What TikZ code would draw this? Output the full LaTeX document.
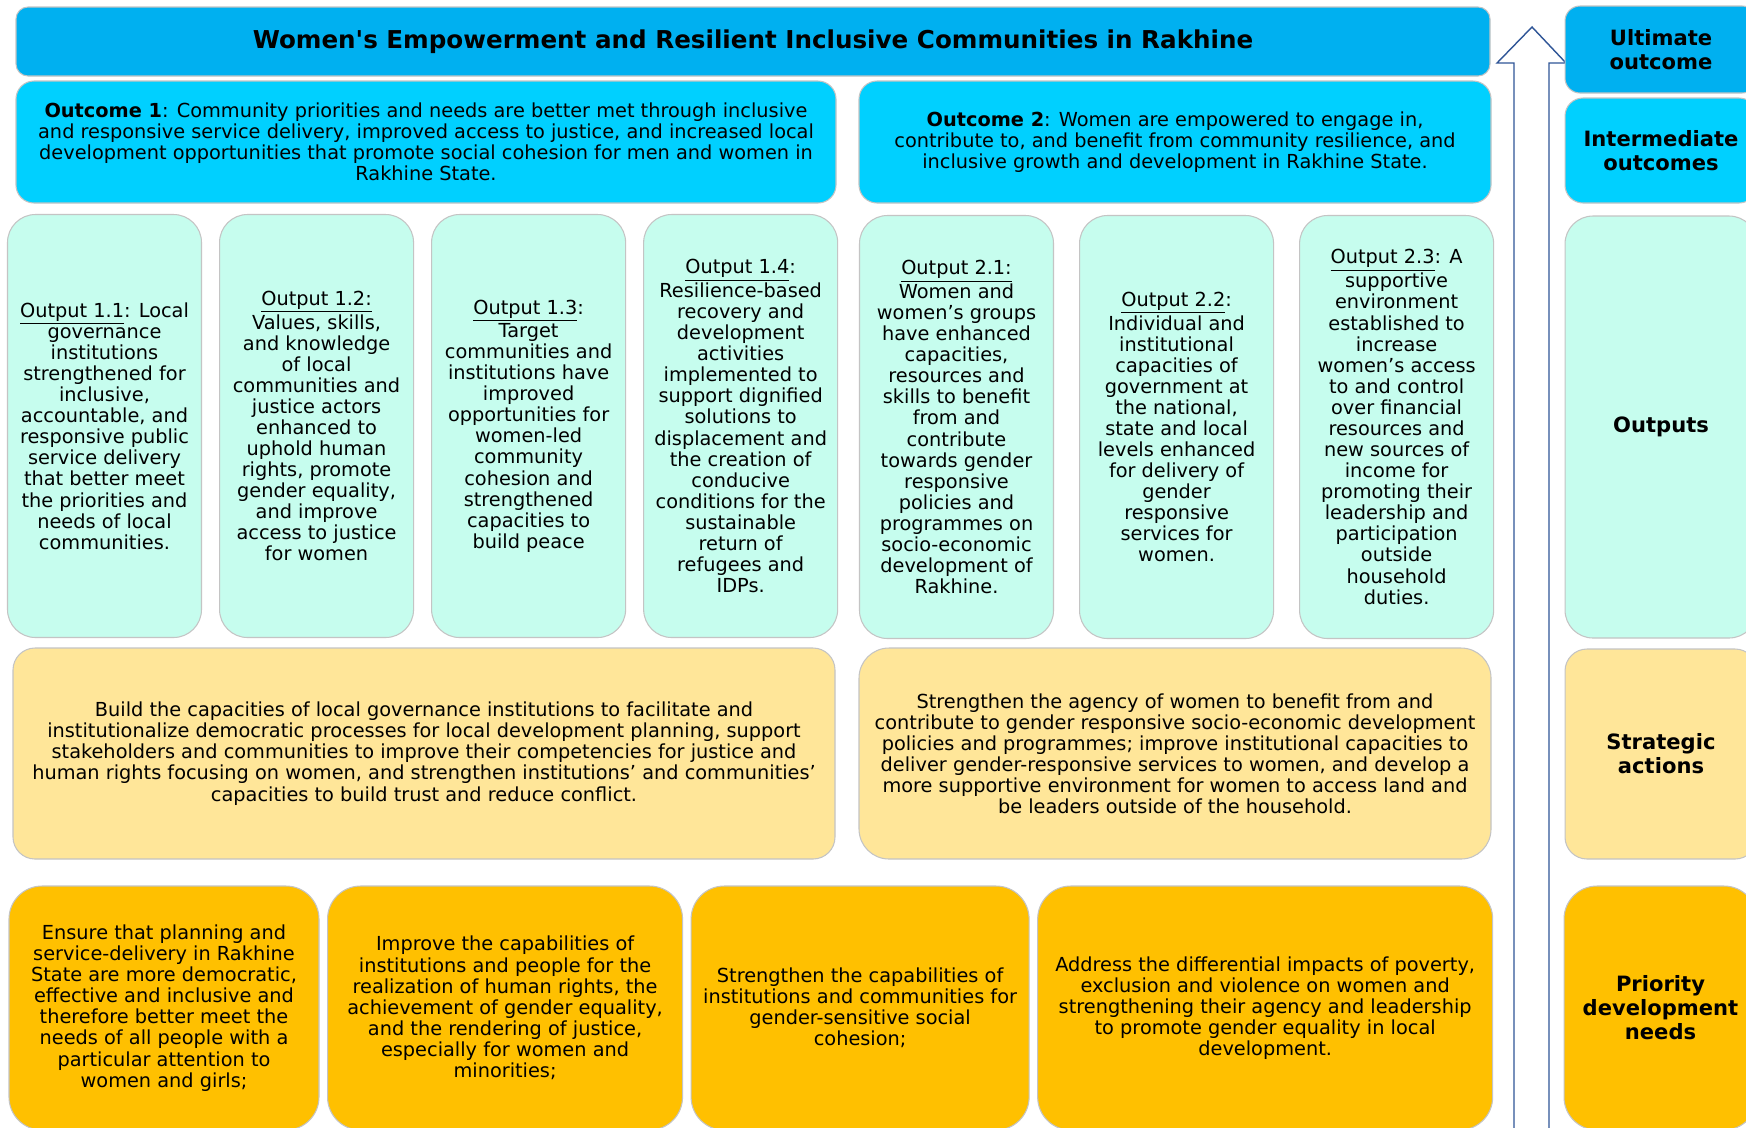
\documentclass[tikz,border=0pt]{standalone}
\usepackage{fontspec}
\setmainfont{DejaVu Sans}
\usetikzlibrary{positioning,chains}

\definecolor{goalblue}{HTML}{00B0F0}
\definecolor{outcomecyan}{HTML}{00D0FF}
\definecolor{outmint}{HTML}{C6FDEE}
\definecolor{actionyellow}{HTML}{FFE699}
\definecolor{needorange}{HTML}{FFC000}
\definecolor{edgegray}{HTML}{C4C4C4}
\definecolor{flowblue}{HTML}{2F5597}

\tikzset{
  wh/.style 2 args={minimum width=#1*0.02cm, minimum height=#2*0.02cm},
  basebox/.style={draw=edgegray, line width=0.6pt, align=center, inner sep=0pt,
    font=\fontsize{11}{12}\selectfont},
  goalbox/.style={basebox, fill=goalblue, rounded corners=0.24cm,
    font=\fontsize{14}{16}\selectfont\bfseries},
  outcomebox/.style={basebox, fill=outcomecyan, rounded corners=0.36cm},
  outbox/.style={basebox, fill=outmint, rounded corners=0.56cm, wh={194}{423}},
  actionbox/.style={basebox, fill=actionyellow, rounded corners=0.44cm},
  needbox/.style={basebox, fill=needorange, rounded corners=0.66cm},
  levelbox/.style={basebox, font=\fontsize{12}{13.7}\selectfont\bfseries},
  upflow/.style={draw=flowblue, line width=0.8pt, fill=white}
}

\begin{document}
\begin{tikzpicture}[x=0.02cm, y=-0.02cm]
\clip (0,0) rectangle (1746,1127);
\fill[white] (0,0) rectangle (1746,1127);

% goal and outcomes
\node[goalbox, wh={1474}{69}] (goal) at (753,41.5)
  {Women\textquotesingle s Empowerment and Resilient Inclusive Communities in Rakhine};
\node[outcomebox, wh={820}{122}] (oc1) at (426,142)
  {\textbf{Outcome 1}: Community priorities and needs are better met through inclusive\\
   and responsive service delivery, improved access to justice, and increased local\\
   development opportunities that promote social cohesion for men and women in\\
   Rakhine State.};
\node[outcomebox, wh={632}{122}] (oc2) at (1175,142)
  {\textbf{Outcome 2}: Women are empowered to engage in,\\
   contribute to, and benefit from community resilience, and\\
   inclusive growth and development in Rakhine State.};

% outputs
\begin{scope}[start chain=going right, node distance=0.34cm]
\node[outbox, on chain] (o11) at (104.5,426)
  {\underline{Output 1.1}: Local\\ governance\\ institutions\\ strengthened for\\ inclusive,\\
   accountable, and\\ responsive public\\ service delivery\\ that better meet\\
   the priorities and\\ needs of local\\ communities.};
\node[outbox, on chain] (o12)
  {\underline{Output 1.2:}\\ Values, skills,\\ and knowledge\\ of local\\ communities and\\
   justice actors\\ enhanced to\\ uphold human\\ rights, promote\\ gender equality,\\
   and improve\\ access to justice\\ for women};
\node[outbox, on chain] (o13)
  {\underline{Output 1.3}:\\ Target\\ communities and\\ institutions have\\ improved\\
   opportunities for\\ women-led\\ community\\ cohesion and\\ strengthened\\
   capacities to\\ build peace};
\node[outbox, on chain] (o14)
  {\underline{Output 1.4}:\\ Resilience-based\\ recovery and\\ development\\ activities\\
   implemented to\\ support dignified\\ solutions to\\ displacement and\\ the creation of\\
   conducive\\ conditions for the\\ sustainable\\ return of\\ refugees and\\ IDPs.};
\end{scope}

\begin{scope}[start chain=going right, node distance=0.5cm]
\node[outbox, on chain] (o21) at (956.5,427)
  {\underline{Output 2.1:}\\ Women and\\ women’s groups\\ have enhanced\\ capacities,\\
   resources and\\ skills to benefit\\ from and\\ contribute\\ towards gender\\
   responsive\\ policies and\\ programmes on\\ socio-economic\\ development of\\ Rakhine.};
\node[outbox, on chain] (o22)
  {\underline{Output 2.2}:\\ Individual and\\ institutional\\ capacities of\\ government at\\
   the national,\\ state and local\\ levels enhanced\\ for delivery of\\ gender\\
   responsive\\ services for\\ women.};
\node[outbox, on chain] (o23)
  {\underline{Output 2.3}: A\\ supportive\\ environment\\ established to\\ increase\\
   women’s access\\ to and control\\ over financial\\ resources and\\ new sources of\\
   income for\\ promoting their\\ leadership and\\ participation\\ outside\\ household\\ duties.};
\end{scope}

% strategic actions
\node[actionbox, wh={822}{211}] (s1) at (424,753.5)
  {Build the capacities of local governance institutions to facilitate and\\
   institutionalize democratic processes for local development planning, support\\
   stakeholders and communities to improve their competencies for justice and\\
   human rights focusing on women, and strengthen institutions’ and communities’\\
   capacities to build trust and reduce conflict.};
\node[actionbox, rounded corners=0.6cm, wh={632}{211}] (s2) at (1175,753.5)
  {Strengthen the agency of women to benefit from and\\
   contribute to gender responsive socio-economic development\\
   policies and programmes; improve institutional capacities to\\
   deliver gender-responsive services to women, and develop a\\
   more supportive environment for women to access land and\\
   be leaders outside of the household.};

% priority development needs
\begin{scope}[start chain=going right, node distance=0.15cm]
\node[needbox, wh={310}{244}, on chain] (p1) at (164,1008)
  {Ensure that planning and\\ service-delivery in Rakhine\\ State are more democratic,\\
   effective and inclusive and\\ therefore better meet the\\ needs of all people with a\\
   particular attention to\\ women and girls;};
\node[needbox, wh={355}{244}, on chain] (p2)
  {Improve the capabilities of\\ institutions and people for the\\ realization of human rights, the\\
   achievement of gender equality,\\ and the rendering of justice,\\ especially for women and\\ minorities;};
\node[needbox, wh={338}{244}, on chain] (p3)
  {Strengthen the capabilities of\\ institutions and communities for\\ gender-sensitive social\\ cohesion;};
\node[needbox, wh={455}{244}, on chain] (p4)
  {Address the differential impacts of poverty,\\ exclusion and violence on women and\\
   strengthening their agency and leadership\\ to promote gender equality in local\\ development.};
\end{scope}

% upward arrow
\draw[upflow] (1514,1140) -- (1514,63) -- (1497,63) -- (1532,27) -- (1566,63)
  -- (1549,63) -- (1549,1140) -- cycle;

% level labels
\node[levelbox, fill=goalblue, rounded corners=0.3cm, wh={192}{87}] (l1) at (1661,49.5) {Ultimate\\ outcome};
\node[levelbox, fill=outcomecyan, rounded corners=0.36cm, wh={192}{105}] (l2) at (1661,150.5) {Intermediate\\ outcomes};
\node[levelbox, fill=outmint, rounded corners=0.56cm, wh={192}{422}] (l3) at (1661,427) {Outputs};
\node[levelbox, fill=actionyellow, rounded corners=0.44cm, wh={192}{210}] (l4) at (1661,754) {Strategic\\ actions};
\node[levelbox, fill=needorange, rounded corners=0.66cm, wh={193}{244}] (l5) at (1660.5,1008) {Priority\\ development\\ needs};

\end{tikzpicture}
\end{document}
